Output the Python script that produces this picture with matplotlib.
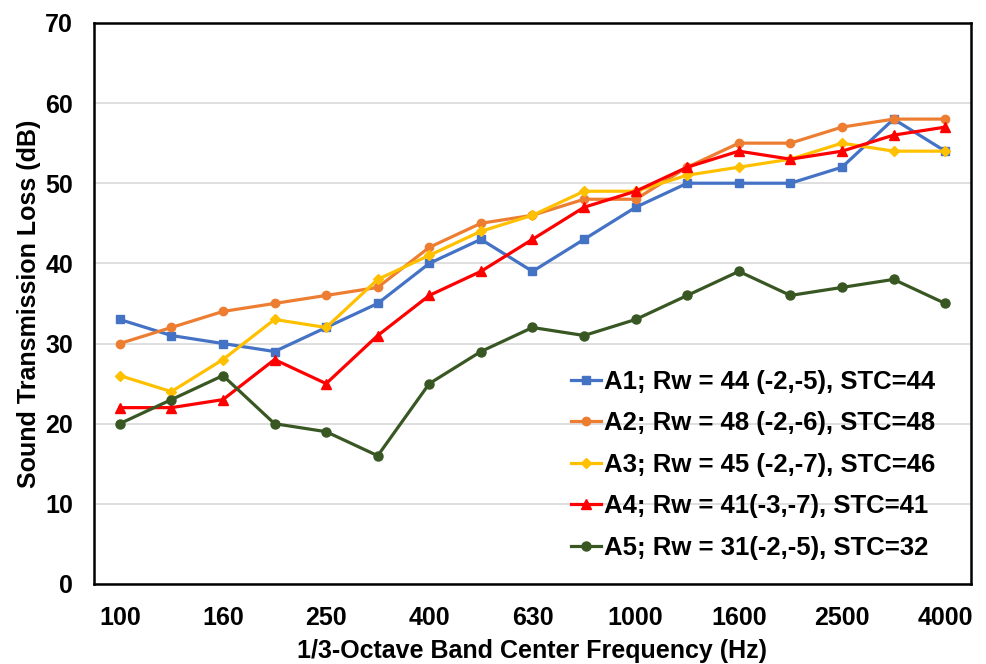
import matplotlib.pyplot as plt

plt.rcParams['font.family'] = ['Liberation Sans', 'DejaVu Sans']
plt.rcParams['font.weight'] = 'bold'

# 1/3-octave band centre frequencies (Hz)
freqs = ['100', '125', '160', '200', '250', '315', '400', '500', '630',
         '800', '1000', '1250', '1600', '2000', '2500', '3150', '4000']

a1 = [33, 31, 30, 29, 32, 35, 40, 43, 39, 43, 47, 50, 50, 50, 52, 58, 54]
a2 = [30, 32, 34, 35, 36, 37, 42, 45, 46, 48, 48, 52, 55, 55, 57, 58, 58]
a3 = [26, 24, 28, 33, 32, 38, 41, 44, 46, 49, 49, 51, 52, 53, 55, 54, 54]
a4 = [22, 22, 23, 28, 25, 31, 36, 39, 43, 47, 49, 52, 54, 53, 54, 56, 57]
a5 = [20, 23, 26, 20, 19, 16, 25, 29, 32, 31, 33, 36, 39, 36, 37, 38, 35]

labels = ['A1; Rw = 44 (-2,-5), STC=44',
          'A2; Rw = 48 (-2,-6), STC=48',
          'A3; Rw = 45 (-2,-7), STC=46',
          'A4; Rw = 41(-3,-7), STC=41',
          'A5; Rw = 31(-2,-5), STC=32']

fig = plt.figure(figsize=(9.87, 6.64), dpi=100)
ax = fig.add_axes([0.0952, 0.1205, 0.8886, 0.845])

x = list(range(len(freqs)))
series = [
    (a1, '#4472C4', 's', 6),
    (a2, '#ED7D31', 'o', 6),
    (a3, '#FFC000', 'D', 5.5),
    (a4, '#FF0000', '^', 7),
    (a5, '#385723', 'o', 6.5),
]
for (vals, col, mk, ms), lab in zip(series, labels):
    ax.plot(x, vals, color=col, marker=mk, markersize=ms, linewidth=2.3,
            label=lab)

ax.set_xlim(-0.5, len(freqs) - 0.5)
ax.set_ylim(0, 70)
ax.set_yticks(range(0, 71, 10))
ax.set_xticks(x[::2])
ax.set_xticklabels(freqs[::2])
ax.tick_params(length=0, labelsize=18)
ax.tick_params(axis='x', pad=16)
ax.tick_params(axis='y', pad=15)
ax.grid(axis='y', color='#d9d9d9', linewidth=1.2)
ax.set_axisbelow(True)
for s in ax.spines.values():
    s.set_linewidth(1.8)
    s.set_color('black')

ax.set_xlabel('1/3-Octave Band Center Frequency (Hz)', fontsize=18,
              fontweight='bold', labelpad=6)
ax.set_ylabel('Sound Transmission Loss (dB)', fontsize=18,
              fontweight='bold', labelpad=3)

leg = ax.legend(loc='lower right', bbox_to_anchor=(0.987, 0.0),
                frameon=False, fontsize=18.5,
                handlelength=1.2, handletextpad=0.1, labelspacing=0.68,
                borderaxespad=0.55)

fig.savefig('out.png', dpi=100)
